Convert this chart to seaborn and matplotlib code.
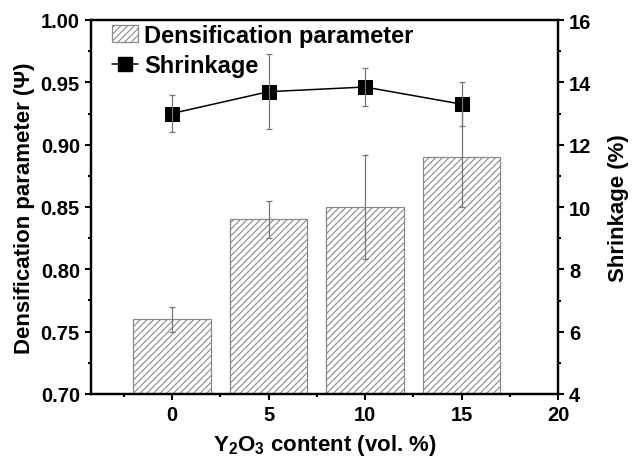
import matplotlib
matplotlib.use("Agg")
import matplotlib.pyplot as plt
import seaborn as sns
import pandas as pd
import numpy as np
from matplotlib.patches import Patch
from matplotlib.lines import Line2D
from matplotlib.ticker import MultipleLocator

# Data
content = [0, 5, 10, 15]
densification = [0.76, 0.84, 0.85, 0.89]
densification_err = [0.010, 0.015, 0.042, 0.040]
shrinkage = [13.0, 13.7, 13.85, 13.3]
shrinkage_err = [0.6, 1.2, 0.6, 0.7]

sns.set_style("ticks")
plt.rcParams['font.family'] = ['Liberation Sans', 'DejaVu Sans']
plt.rcParams['font.weight'] = 'bold'
plt.rcParams['axes.labelweight'] = 'bold'
plt.rcParams['text.color'] = 'black'
plt.rcParams['axes.labelcolor'] = 'black'
plt.rcParams['xtick.color'] = 'black'
plt.rcParams['ytick.color'] = 'black'
plt.rcParams['mathtext.fontset'] = 'custom'
plt.rcParams['mathtext.rm'] = 'Liberation Sans:bold'
plt.rcParams['mathtext.bf'] = 'Liberation Sans:bold'
plt.rcParams['hatch.linewidth'] = 0.8

df = pd.DataFrame({"content": content, "dens": densification, "shrink": shrinkage})

fig = plt.figure(figsize=(6.43, 4.64), dpi=100)
ax = fig.add_axes([91/643, 1-395/464, (558-91)/643, (395-21)/464])

sns.barplot(data=df, x="content", y="dens", native_scale=True, width=0.8,
            errorbar=None, ax=ax, color="white", edgecolor="#8a8a8a",
            linewidth=0.9)
for p in ax.patches:
    p.set_hatch("/////")
    p.set_facecolor("white")
    p.set_edgecolor("#8a8a8a")
ax.errorbar(content, densification, yerr=densification_err, fmt="none",
            ecolor="#777777", elinewidth=0.9, capsize=2.5, capthick=0.9)

ax.set_xlim(-4.2, 20)
ax.set_ylim(0.70, 1.00)
ax.xaxis.set_major_locator(MultipleLocator(5))
ax.xaxis.set_minor_locator(MultipleLocator(2.5))
ax.yaxis.set_major_locator(MultipleLocator(0.05))
ax.yaxis.set_minor_locator(MultipleLocator(0.025))
ax.yaxis.set_major_formatter(matplotlib.ticker.FormatStrFormatter('%.2f'))

ax2 = ax.twinx()
sns.lineplot(data=df, x="content", y="shrink", ax=ax2, color="black",
             linewidth=1.1, marker="s", markersize=10, markeredgecolor="black",
             markerfacecolor="black")
ax2.errorbar(content, shrinkage, yerr=shrinkage_err, fmt="none",
             ecolor="#777777", elinewidth=0.9, capsize=2.5, capthick=0.9)
ax2.set_ylim(4, 16)
ax2.yaxis.set_major_locator(MultipleLocator(2))
ax2.yaxis.set_minor_locator(MultipleLocator(1))

for a in (ax, ax2):
    for s in a.spines.values():
        s.set_linewidth(1.6)
        s.set_color("black")
    a.tick_params(which="major", length=4.5, width=1.5, labelsize=14.5, direction="out")
    a.tick_params(which="minor", length=2.5, width=1.5, direction="out")
ax.tick_params(top=False, right=False, which="both")
ax2.tick_params(left=False, top=False, which="both")

ax.set_xlabel(r"Y$_\mathbf{2}$O$_\mathbf{3}$ content (vol. %)", fontsize=16, labelpad=6)
ax.set_ylabel("Densification parameter (Ψ)", fontsize=16, labelpad=4)
ax2.set_ylabel("Shrinkage (%)", fontsize=16, labelpad=12)

handles = [Patch(facecolor="white", edgecolor="#8a8a8a", hatch="/////", linewidth=0.9),
           Line2D([], [], color="black", linewidth=1.1, marker="s", markersize=10)]
leg = ax2.legend(handles, ["Densification parameter", "Shrinkage"], loc="upper left",
                 bbox_to_anchor=(0.045, 0.99), borderaxespad=0, borderpad=0,
                 frameon=False, fontsize=17, handlelength=1.1, handletextpad=0.25,
                 labelspacing=0.3)

fig.savefig("out.png", dpi=100)
